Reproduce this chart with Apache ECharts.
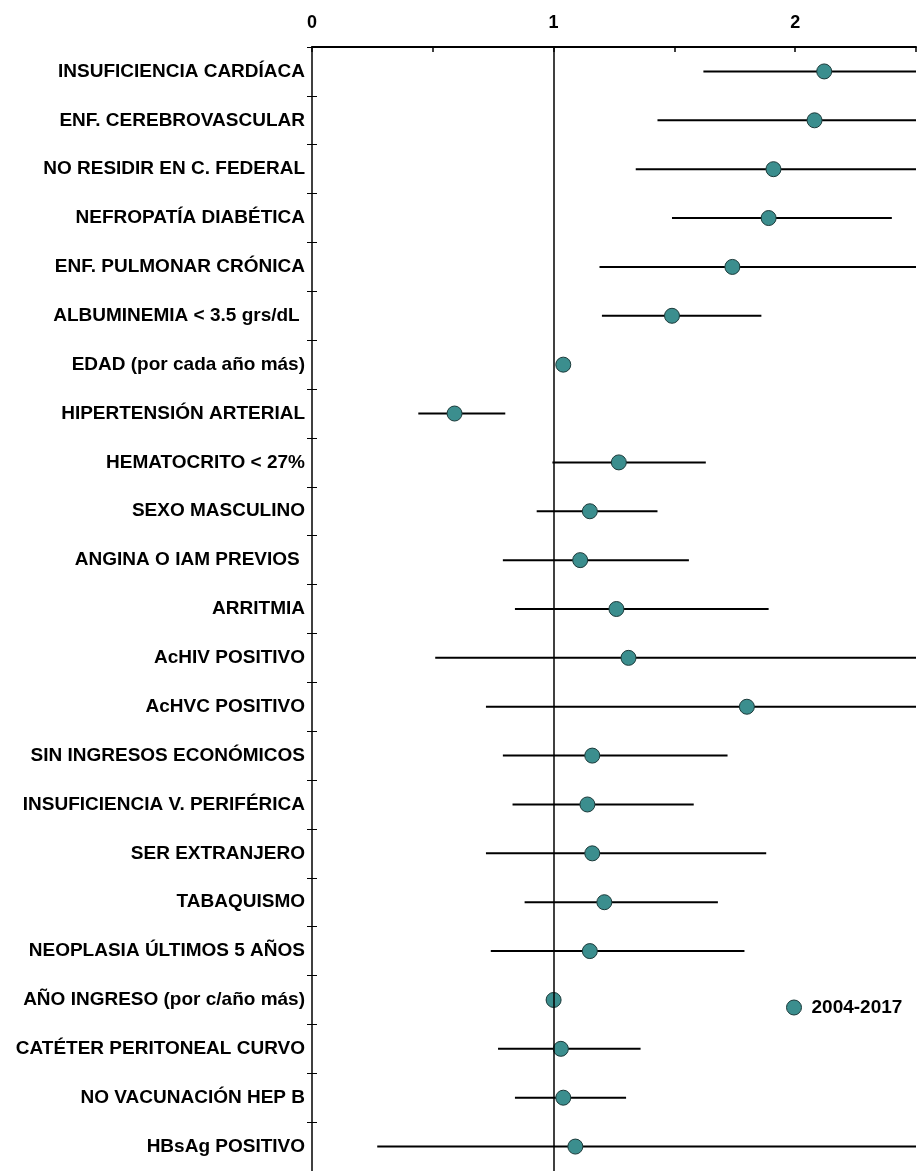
<!DOCTYPE html>
<html>
<head>
<meta charset="utf-8">
<script src="https://cdn.jsdelivr.net/npm/echarts@6/dist/echarts.min.js"></script>
<style>
html,body{margin:0;padding:0;background:#fff;}
#c{width:919px;height:1171px;}
</style>
</head>
<body>
<div id="c"></div>
<script>
var categories = [
  'INSUFICIENCIA CARDÍACA',
  'ENF. CEREBROVASCULAR',
  'NO RESIDIR EN C. FEDERAL',
  'NEFROPATÍA DIABÉTICA',
  'ENF. PULMONAR CRÓNICA',
  'ALBUMINEMIA < 3.5 grs/dL ',
  'EDAD (por cada año más)',
  'HIPERTENSIÓN ARTERIAL',
  'HEMATOCRITO < 27%',
  'SEXO MASCULINO',
  'ANGINA O IAM PREVIOS ',
  'ARRITMIA',
  'AcHIV POSITIVO',
  'AcHVC POSITIVO',
  'SIN INGRESOS ECONÓMICOS',
  'INSUFICIENCIA V. PERIFÉRICA',
  'SER EXTRANJERO',
  'TABAQUISMO',
  'NEOPLASIA ÚLTIMOS 5 AÑOS',
  'AÑO INGRESO (por c/año más)',
  'CATÉTER PERITONEAL CURVO',
  'NO VACUNACIÓN HEP B',
  'HBsAg POSITIVO'
];
var hazardRatio = [2.12, 2.08, 1.91, 1.89, 1.74, 1.49, 1.04, 0.59, 1.27, 1.15, 1.11, 1.26, 1.31, 1.80, 1.16, 1.14, 1.16, 1.21, 1.15, 1.00, 1.03, 1.04, 1.09];
var ciLow     = [1.62, 1.43, 1.34, 1.49, 1.19, 1.20, 1.03, 0.44, 0.995, 0.93, 0.79, 0.84, 0.51, 0.72, 0.79, 0.83, 0.72, 0.88, 0.74, 0.97, 0.77, 0.84, 0.27];
var ciHigh    = [2.90, 3.10, 2.70, 2.40, 2.60, 1.86, 1.05, 0.80, 1.63, 1.43, 1.56, 1.89, 3.40, 4.50, 1.72, 1.58, 1.88, 1.68, 1.79, 1.03, 1.36, 1.30, 4.40];
var xTicks = [0, 0.5, 1, 1.5, 2, 2.5];
var legendName = '2004-2017';

var chart = echarts.init(document.getElementById('c'), null, {renderer: 'canvas'});
var font = 'Liberation Sans, Arial, sans-serif';
var ciData = categories.map(function (c, i) { return [i, ciLow[i], ciHigh[i]]; });
var ptData = categories.map(function (c, i) { return [hazardRatio[i], i]; });

chart.setOption({
  animation: false,
  backgroundColor: '#fff',
  grid: {left: 312, top: 47, right: 0, height: 1127, containLabel: false},
  xAxis: {
    type: 'value', position: 'top', min: xTicks[0], max: xTicks[xTicks.length - 1], interval: 0.5,
    axisLine: {show: true, lineStyle: {color: '#000', width: 2}},
    axisTick: {show: true, inside: true, length: 5, lineStyle: {color: '#000', width: 1.5}},
    axisLabel: {
      color: '#000', fontFamily: font, fontWeight: 'bold', fontSize: 18, margin: 15,
      formatter: function (v) { return (Math.abs(v - Math.round(v)) < 1e-9 && v < 2.5) ? String(Math.round(v)) : ''; }
    },
    splitLine: {show: false}
  },
  yAxis: [{
    type: 'category', data: categories, inverse: true, boundaryGap: true,
    axisLine: {show: true, lineStyle: {color: '#000', width: 1.5}},
    axisTick: {show: true, inside: false, length: 5, lineStyle: {color: '#000', width: 1}},
    axisLabel: {color: '#000', fontFamily: font, fontWeight: 'bold', fontSize: 19, margin: 7},
    splitLine: {show: false}
  }, {
    type: 'category', data: categories, inverse: true, boundaryGap: true, position: 'left', offset: 0,
    axisLine: {show: false},
    axisTick: {show: true, inside: true, length: 5, lineStyle: {color: '#000', width: 1}},
    axisLabel: {show: false},
    splitLine: {show: false}
  }],
  legend: {
    show: true, left: 781, top: 993, itemWidth: 15, itemHeight: 15, itemGap: 8,
    icon: 'circle',
    itemStyle: {color: '#3B8E8E', borderColor: '#1c3a3a', borderWidth: 1},
    textStyle: {color: '#000', fontFamily: font, fontWeight: 'bold', fontSize: 19, padding: [0, 0, 0, 5]},
    data: [legendName]
  },
  series: [{
    type: 'custom',
    name: 'ci',
    clip: true,
    renderItem: function (params, api) {
      var idx = api.value(0);
      var a = api.coord([api.value(1), idx]);
      var b = api.coord([api.value(2), idx]);
      return {
        type: 'line',
        shape: {x1: a[0], y1: a[1], x2: b[0], y2: b[1]},
        style: {stroke: '#000', lineWidth: 2}
      };
    },
    encode: {x: [1, 2], y: 0},
    data: ciData,
    z: 2
  }, {
    type: 'scatter',
    name: legendName,
    data: ptData,
    symbol: 'circle',
    symbolSize: 15,
    itemStyle: {color: '#3B8E8E', borderColor: '#1c3a3a', borderWidth: 1, opacity: 1},
    z: 4,
    markLine: {
      silent: true, symbol: ['none', 'none'],
      label: {show: false},
      lineStyle: {color: '#000', width: 1.5, type: 'solid'},
      data: [{xAxis: 1}]
    }
  }]
});
</script>
</body>
</html>
